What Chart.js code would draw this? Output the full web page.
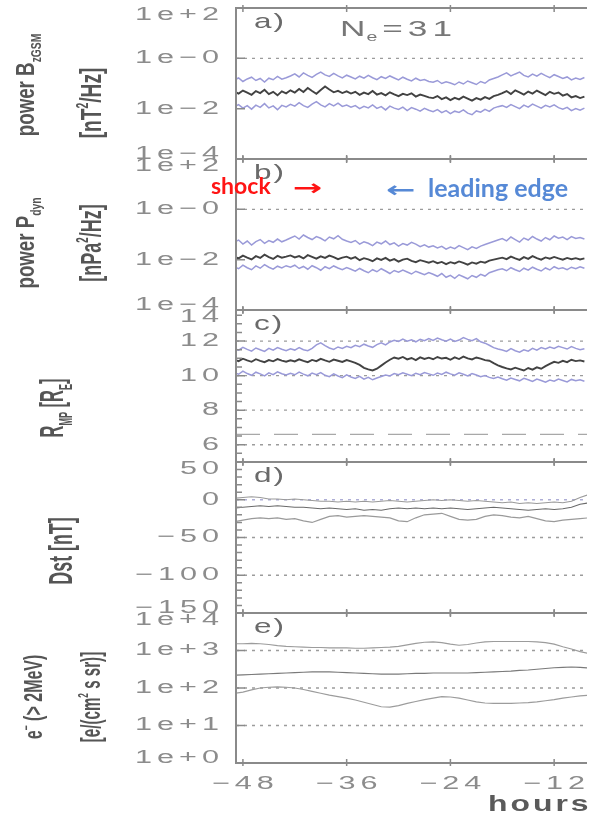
<!DOCTYPE html>
<html>
<head>
<meta charset="utf-8">
<script src="https://cdn.jsdelivr.net/npm/chart.js@4.4.1/dist/chart.umd.min.js"></script>
<style>
  html, body { margin: 0; padding: 0; background: #fff; overflow: hidden; }
  #wrap { position: relative; width: 594px; height: 815px; }
  #wrap canvas { position: absolute; left: 0; top: 0; }
</style>
</head>
<body>
<div id="wrap">
  <canvas id="pa" width="594" height="815"></canvas>
  <canvas id="pb" width="594" height="815"></canvas>
  <canvas id="pc" width="594" height="815"></canvas>
  <canvas id="pd" width="594" height="815"></canvas>
  <canvas id="pe" width="594" height="815"></canvas>
</div>
<script>
// ---------- time axes (hours relative to arrival) ----------
const X_MIN = -48.8;
const X_MAX = -8.2;
const hourTicks = [-48, -36, -24, -12];
const hourTickText = ["\u221248", "\u221236", "\u221224", "\u221212"];

// half-hour grid for the noisy spectra / magnetopause series
const hoursHalf = [-49, -48.5, -48, -47.5, -47, -46.5, -46, -45.5, -45, -44.5, -44, -43.5, -43,
  -42.5, -42, -41.5, -41, -40.5, -40, -39.5, -39, -38.5, -38, -37.5, -37, -36.5, -36,
  -35.5, -35, -34.5, -34, -33.5, -33, -32.5, -32, -31.5, -31, -30.5, -30, -29.5, -29, -28.5, -28, -27.5, -27, -26.5,
  -26, -25.5, -25, -24.5, -24, -23.5, -23, -22.5, -22, -21.5, -21, -20.5, -20, -19.5, -19, -18.5,
  -18, -17.5, -17, -16.5, -16, -15.5, -15, -14.5, -14, -13.5, -13, -12.5, -12, -11.5,
  -11, -10.5, -10, -9.5, -9, -8.5];

// hourly grid for Dst and electron flux
const hoursHourly = [-49, -48, -47, -46, -45, -44, -43, -42, -41, -40, -39, -38, -37, -36, -35, -34,
  -33, -32, -31, -30, -29, -28, -27, -26, -25, -24, -23, -22, -21, -20, -19, -18, -17, -16, -15, -14,
  -13, -12, -11, -10, -9, -8];

// ---------- a) power of Bz GSM, log10 [nT^2/Hz] ----------
const bzMedLog = [-1.32,-1.40,-1.28,-1.36,-1.45,-1.30,-1.38,-1.25,-1.42,-1.33,-1.47,-1.31,-1.39,
  -1.27,-1.36,-1.22,-1.34,-1.18,-1.30,-1.41,-1.26,-1.12,-1.24,-1.35,-1.29,-1.38,-1.31,
  -1.40,-1.33,-1.45,-1.36,-1.42,-1.30,-1.44,-1.38,-1.47,-1.35,-1.43,-1.50,-1.41,-1.46,-1.39,-1.52,-1.44,-1.49,-1.55,
  -1.58,-1.50,-1.62,-1.55,-1.66,-1.57,-1.63,-1.52,-1.60,-1.68,-1.58,-1.64,-1.54,-1.61,-1.50,-1.45,
  -1.38,-1.30,-1.42,-1.27,-1.35,-1.44,-1.32,-1.40,-1.28,-1.37,-1.46,-1.33,-1.41,-1.36,
  -1.48,-1.42,-1.55,-1.50,-1.58,-1.52];
const bzHiLog = [-0.86,-0.78,-0.92,-0.82,-0.75,-0.88,-0.80,-0.94,-0.79,-0.85,-0.72,-0.83,-0.77,
  -0.70,-0.62,-0.74,-0.58,-0.68,-0.76,-0.64,-0.55,-0.66,-0.72,-0.60,-0.70,-0.78,-0.67,
  -0.74,-0.82,-0.71,-0.79,-0.68,-0.77,-0.85,-0.73,-0.80,-0.70,-0.78,-0.86,-0.75,-0.83,-0.90,-0.79,-0.88,-0.84,-0.92,
  -0.95,-0.88,-1.00,-0.93,-0.98,-1.05,-0.94,-1.02,-0.90,-0.97,-1.04,-0.92,-0.99,-0.86,-0.80,-0.74,
  -0.66,-0.58,-0.70,-0.62,-0.55,-0.68,-0.74,-0.63,-0.71,-0.60,-0.69,-0.77,-0.65,-0.72,
  -0.80,-0.74,-0.86,-0.78,-0.84,-0.76];
const bzLoLog = [-1.92,-1.84,-1.98,-1.88,-2.02,-1.86,-1.95,-1.80,-1.97,-1.89,-2.04,-1.87,-1.93,
  -1.83,-1.90,-1.76,-1.88,-1.95,-1.82,-1.72,-1.85,-1.93,-1.80,-1.89,-1.78,-1.91,-1.86,
  -1.94,-1.88,-2.00,-1.91,-1.97,-1.85,-1.99,-1.92,-2.05,-1.90,-1.98,-2.03,-1.94,-2.08,-1.96,-2.02,-2.10,-1.99,-2.06,
  -2.12,-2.04,-2.16,-2.08,-2.20,-2.10,-2.15,-2.05,-2.18,-2.24,-2.09,-2.14,-2.03,-2.11,-1.98,-1.92,
  -1.88,-1.95,-1.84,-1.92,-2.00,-1.86,-1.94,-1.82,-1.90,-1.98,-1.87,-1.93,-1.85,-1.96,
  -2.02,-1.95,-2.08,-2.00,-2.06,-1.98];

// ---------- b) power of Pdyn, log10 [nPa^2/Hz] ----------
const pdMedLog = [-1.88,-1.95,-1.84,-1.92,-1.99,-1.86,-1.93,-1.80,-1.90,-1.97,-1.85,-1.92,-1.88,
  -1.83,-1.91,-1.86,-1.95,-1.82,-1.89,-1.96,-1.87,-1.93,-1.84,-1.90,-1.98,-1.92,-1.88,
  -1.96,-1.90,-2.02,-1.94,-1.99,-2.06,-1.95,-2.01,-1.93,-2.04,-1.98,-2.08,-2.00,-1.96,-2.05,-2.10,-2.02,-2.07,-2.12,
  -2.06,-2.14,-2.09,-2.18,-2.10,-2.15,-2.07,-2.13,-2.20,-2.11,-2.16,-2.08,-2.12,-2.04,-2.00,-1.96,
  -1.92,-1.98,-1.88,-1.95,-2.01,-1.90,-1.97,-1.86,-1.94,-2.00,-1.91,-1.96,-1.89,-1.95,
  -2.00,-1.93,-1.98,-1.94,-1.99,-1.95];
const pdHiLog = [-1.30,-1.22,-1.38,-1.26,-1.42,-1.28,-1.20,-1.35,-1.24,-1.31,-1.18,-1.29,-1.22,
  -1.14,-1.06,-1.18,-1.02,-1.12,-1.20,-1.08,-1.15,-1.25,-1.10,-1.17,-1.05,-1.19,-1.26,
  -1.32,-1.24,-1.38,-1.29,-1.35,-1.44,-1.30,-1.37,-1.26,-1.40,-1.33,-1.46,-1.36,-1.42,-1.31,-1.38,-1.48,-1.41,-1.50,
  -1.45,-1.53,-1.47,-1.58,-1.50,-1.56,-1.44,-1.52,-1.60,-1.49,-1.55,-1.46,-1.40,-1.34,-1.28,-1.22,
  -1.16,-1.25,-1.10,-1.20,-1.30,-1.14,-1.22,-1.08,-1.18,-1.26,-1.12,-1.21,-1.06,-1.15,
  -1.10,-1.20,-1.08,-1.16,-1.12,-1.18];
const pdLoLog = [-2.28,-2.36,-2.22,-2.32,-2.40,-2.25,-2.34,-2.20,-2.30,-2.38,-2.26,-2.33,-2.24,
  -2.30,-2.22,-2.35,-2.27,-2.38,-2.24,-2.32,-2.42,-2.28,-2.36,-2.25,-2.33,-2.40,-2.31,
  -2.38,-2.46,-2.35,-2.44,-2.52,-2.40,-2.48,-2.36,-2.45,-2.55,-2.43,-2.50,-2.41,-2.49,-2.57,-2.46,-2.53,-2.60,-2.51,
  -2.58,-2.66,-2.55,-2.70,-2.62,-2.74,-2.60,-2.68,-2.76,-2.63,-2.70,-2.58,-2.65,-2.52,-2.46,-2.40,
  -2.36,-2.44,-2.32,-2.40,-2.47,-2.34,-2.42,-2.30,-2.38,-2.45,-2.33,-2.41,-2.28,-2.36,
  -2.32,-2.40,-2.30,-2.36,-2.28,-2.34];

// ---------- c) magnetopause standoff distance [R_E] ----------
const rmpMed = [10.92,10.84,10.98,10.88,10.80,10.95,10.86,10.78,10.90,10.83,10.96,10.87,10.81,
  10.89,10.82,10.94,10.85,10.78,10.91,10.84,10.97,10.88,10.80,10.93,10.86,10.79,10.90,
  10.83,10.74,10.62,10.45,10.36,10.30,10.40,10.58,10.76,10.92,11.05,10.98,11.08,10.94,11.02,10.90,11.06,10.97,11.04,
  10.95,11.08,10.99,11.03,10.92,11.06,10.96,11.10,11.00,10.94,11.05,10.98,10.90,10.86,10.72,10.60,
  10.50,10.42,10.36,10.46,10.38,10.30,10.44,10.35,10.48,10.40,10.55,10.68,10.80,10.74,
  10.86,10.78,10.92,10.84,10.88,10.82];
const rmpHi = [11.55,11.48,11.64,11.52,11.42,11.60,11.50,11.40,11.58,11.47,11.62,11.53,11.45,
  11.56,11.48,11.62,11.50,11.44,11.58,11.78,11.90,11.74,11.60,11.52,11.66,11.58,11.70,
  11.62,11.76,11.68,11.82,11.72,11.64,11.80,11.90,11.78,11.95,12.05,11.98,12.12,12.00,12.08,11.96,12.10,12.02,12.15,
  12.04,12.18,12.08,12.00,12.12,11.98,12.06,12.20,12.10,12.02,12.14,11.96,11.88,11.76,11.62,11.54,
  11.48,11.40,11.56,11.44,11.36,11.50,11.42,11.58,11.48,11.62,11.54,11.66,11.58,11.70,
  11.62,11.54,11.68,11.58,11.50,11.56];
const rmpLo = [10.18,10.08,10.26,10.12,10.02,10.20,10.10,9.98,10.16,10.06,10.22,10.11,10.04,
  10.14,10.05,10.20,10.09,9.99,10.15,10.06,10.18,10.02,9.94,10.10,9.98,9.88,10.04,
  9.92,9.84,9.96,9.80,9.90,9.76,9.86,9.95,10.04,9.98,10.12,10.05,10.16,10.08,10.00,10.14,10.06,10.18,10.10,
  10.02,10.15,10.07,10.20,10.10,10.03,10.16,10.08,9.98,10.12,10.04,9.94,10.00,9.90,9.84,9.92,
  9.82,9.74,9.86,9.78,9.70,9.84,9.76,9.66,9.80,9.72,9.62,9.74,9.68,9.80,
  9.72,9.64,9.78,9.70,9.76,9.68];
const rmpGeo = 6.6;

// ---------- d) Dst [nT] ----------
const dstHi = [2,3,4,3,1,1,0,1,0,-1,-2,-2,-3,-2,-3,-2,-3,-2,-1,-2,-3,-2,-1,0,-1,0,-1,-2,-1,-2,-3,-4,-3,-5,-4,-5,-4,-3,-4,-2,3,7];
const dstMed = [-11,-10,-9,-8,-9,-8,-9,-10,-10,-11,-12,-11,-12,-13,-12,-14,-13,-14,-12,-11,-12,-11,-12,-11,-12,-11,-12,-13,-12,-11,-10,-11,-12,-13,-14,-13,-12,-13,-12,-10,-6,-4];
const dstLo = [-29,-27,-25,-24,-25,-24,-26,-25,-28,-30,-26,-22,-21,-23,-22,-21,-22,-23,-24,-28,-29,-24,-20,-19,-18,-22,-26,-27,-26,-22,-20,-21,-23,-24,-22,-25,-28,-29,-27,-26,-25,-24];

// ---------- e) electron flux > 2 MeV, log10 [e/(cm^2 s sr)] ----------
const fluxHiLog = [3.18,3.18,3.19,3.18,3.16,3.13,3.11,3.10,3.09,3.08,3.08,3.07,3.07,3.07,3.06,3.06,3.07,3.08,3.09,3.11,3.15,3.19,3.22,3.23,3.21,3.17,3.14,3.16,3.20,3.23,3.24,3.24,3.24,3.24,3.24,3.23,3.21,3.17,3.10,3.04,2.97,2.92];
const fluxMedLog = [2.34,2.35,2.36,2.37,2.38,2.39,2.40,2.41,2.42,2.43,2.43,2.43,2.42,2.41,2.40,2.39,2.38,2.37,2.37,2.37,2.38,2.39,2.39,2.40,2.40,2.40,2.40,2.40,2.41,2.42,2.43,2.44,2.45,2.47,2.48,2.50,2.52,2.54,2.55,2.56,2.55,2.53];
const fluxLoLog = [1.86,1.89,1.95,2.00,2.02,2.03,2.02,2.00,1.96,1.91,1.86,1.81,1.77,1.73,1.68,1.62,1.56,1.50,1.49,1.53,1.59,1.64,1.69,1.73,1.77,1.76,1.73,1.68,1.63,1.60,1.59,1.59,1.59,1.60,1.61,1.63,1.66,1.69,1.73,1.76,1.79,1.81];

// ---------- y ticks per panel ----------
const ticksA = [1e2, 1, 1e-2, 1e-4];
const ticksAText = ["1e+2", "1e\u22120", "1e\u22122", "1e\u22124"];
const ticksC = [14, 12, 10, 8, 6];
const ticksCText = ["14", "12", "10", "8", "6"];
const minorC = [5.5, 6.5, 7, 7.5, 8.5, 9, 9.5, 10.5, 11, 11.5, 12.5, 13, 13.5];
const ticksD = [50, 0, -50, -100, -150];
const ticksDText = ["50", "0", "\u221250", "\u2212100", "\u2212150"];
const minorD = [40, 30, 20, 10, -10, -20, -30, -40, -60, -70, -80, -90, -110, -120, -130, -140];
const ticksE = [1e4, 1e3, 1e2, 1e1, 1];
const ticksEText = ["1e+4", "1e+3", "1e+2", "1e+1", "1e+0"];

const BLACK = "#424242";
const LILAC = "#9a9ad8";
const GRID = "#9c9c9c";
const TITLE = "#555555";

// ---------- helpers ----------
function wideText(ctx, str, x, y, align, sx, gap) {
  const chars = [...str];
  const ws = chars.map(c => ctx.measureText(c).width * sx);
  const total = ws.reduce((s, w) => s + w, 0) + gap * (chars.length - 1);
  let cx = align === "right" ? x - total : align === "center" ? x - total / 2 : x;
  chars.forEach((c, i) => {
    ctx.save();
    ctx.translate(cx, y);
    ctx.scale(sx, 1);
    ctx.textAlign = "left";
    ctx.fillText(c, 0, 0);
    ctx.restore();
    cx += ws[i] + gap;
  });
  return total;
}

// rotated axis title, segments may be sub- or superscripts
function vText(ctx, segs, bx, cy, size, squeeze, color) {
  ctx.save();
  ctx.translate(bx, cy);
  ctx.rotate(-Math.PI / 2);
  ctx.scale(squeeze, 1);
  ctx.fillStyle = color;
  ctx.textBaseline = "alphabetic";
  ctx.textAlign = "left";
  const parts = segs.map(s => {
    const fs = s.sub || s.sup ? size * 0.55 : size;
    ctx.font = 'bold ' + fs + 'px "Liberation Sans"';
    return { s, fs, w: ctx.measureText(s.t).width };
  });
  const total = parts.reduce((a, p) => a + p.w, 0);
  let u = -total / 2;
  parts.forEach(p => {
    ctx.font = 'bold ' + p.fs + 'px "Liberation Sans"';
    const v = p.s.sub ? size * 0.28 : p.s.sup ? -size * 0.45 : 0;
    ctx.fillText(p.s.t, u, v);
    u += p.w;
  });
  ctx.restore();
}

const series = (xs, ys, color, width, order, log) => ({
  data: xs.map((h, i) => ({ x: h, y: log ? Math.pow(10, ys[i]) : ys[i] })),
  borderColor: color, borderWidth: width, pointRadius: 0, tension: 0, order
});
const refLine = (v, dash, color) => ({
  data: [{ x: X_MIN, y: v }, { x: X_MAX, y: v }],
  borderColor: color, borderWidth: 1.3, borderDash: dash, pointRadius: 0, order: 9
});

// frame, ticks, labels and annotations of one panel
const panelDeco = {
  id: "panelDeco",
  afterDatasetsDraw(chart, args, o) {
    const { ctx, chartArea: a, scales: { x, y } } = chart;
    ctx.save();
    ctx.strokeStyle = "#8a8a8a";
    ctx.lineWidth = 2;
    ctx.beginPath();
    ctx.moveTo(a.left, a.top - 1); ctx.lineTo(a.left, a.bottom + 1);
    ctx.moveTo(a.left, a.top); ctx.lineTo(a.right, a.top);
    ctx.moveTo(a.left, a.bottom); ctx.lineTo(a.right, a.bottom);
    ctx.stroke();

    ctx.lineWidth = 1.5;
    ctx.beginPath();
    hourTicks.forEach(h => {
      const px = x.getPixelForValue(h);
      ctx.moveTo(px, a.top - 3); ctx.lineTo(px, a.top + 4);
      ctx.moveTo(px, a.bottom - 4); ctx.lineTo(px, a.bottom + 3);
    });
    o.ticks.forEach(v => {
      const py = y.getPixelForValue(v);
      if (py < a.top - 1 || py > a.bottom + 1) return;
      ctx.moveTo(a.left, py); ctx.lineTo(a.left + 9, py);
    });
    (o.minor || []).forEach(v => {
      const py = y.getPixelForValue(v);
      ctx.moveTo(a.left, py); ctx.lineTo(a.left + 6, py);
    });
    ctx.stroke();

    // tick labels, end ones held inside the panel
    ctx.fillStyle = "#8c8c8c";
    ctx.font = '18px "Liberation Sans"';
    ctx.textBaseline = "middle";
    o.ticks.forEach((v, i) => {
      const py = Math.min(Math.max(y.getPixelForValue(v), a.top + 7), a.bottom - 5);
      wideText(ctx, o.tickText[i], 219, py, "right", 1.7, 5);
    });

    // panel letter
    ctx.fillStyle = "#6a6a6a";
    ctx.font = '21px "Liberation Sans"';
    wideText(ctx, o.letter, a.left + 18, a.top + 14, "left", 1.5, 2);

    o.titles.forEach(t => vText(ctx, t.segs, t.x, t.y, t.size, t.sq, TITLE));
    if (o.extra) o.extra(ctx, chart);
    ctx.restore();
  }
};

const panels = [
  {
    id: "pa", top: 8, bottom: 159, type: "logarithmic", min: 1e-4, max: 1e2,
    ticks: ticksA, tickText: ticksAText, letter: "a)",
    datasets: [
      refLine(1, [3, 5], GRID),
      series(hoursHalf, bzHiLog, LILAC, 1.5, 2, true),
      series(hoursHalf, bzLoLog, LILAC, 1.5, 2, true),
      series(hoursHalf, bzMedLog, BLACK, 1.9, 1, true)
    ],
    titles: [
      { segs: [{ t: "power B" }, { t: "zGSM", sub: true }], x: 34, y: 85, size: 26, sq: 0.72 },
      { segs: [{ t: "[nT" }, { t: "2", sup: true }, { t: "/Hz]" }], x: 101, y: 103, size: 29, sq: 0.66 }
    ],
    extra(ctx) {
      ctx.fillStyle = "#777777";
      ctx.font = '22px "Liberation Sans"';
      ctx.textBaseline = "alphabetic";
      let px = 340;
      px += wideText(ctx, "N", px, 36, "left", 1.6, 0) + 1;
      ctx.font = '13px "Liberation Sans"';
      px += wideText(ctx, "e", px, 41, "left", 1.5, 0) + 5;
      ctx.font = '22px "Liberation Sans"';
      wideText(ctx, "=31", px, 36, "left", 1.6, 5);
    }
  },
  {
    id: "pb", top: 159, bottom: 310, type: "logarithmic", min: 1e-4, max: 1e2,
    ticks: ticksA, tickText: ticksAText, letter: "b)",
    datasets: [
      refLine(1, [3, 5], GRID),
      series(hoursHalf, pdHiLog, LILAC, 1.5, 2, true),
      series(hoursHalf, pdLoLog, LILAC, 1.5, 2, true),
      series(hoursHalf, pdMedLog, BLACK, 1.9, 1, true)
    ],
    titles: [
      { segs: [{ t: "power P" }, { t: "dyn", sub: true }], x: 34, y: 243, size: 26, sq: 0.72 },
      { segs: [{ t: "[nPa" }, { t: "2", sup: true }, { t: "/Hz]" }], x: 101, y: 243, size: 29, sq: 0.62 }
    ],
    extra(ctx) {
      ctx.textBaseline = "alphabetic";
      ctx.fillStyle = "#ff1414";
      ctx.font = 'bold 23px "Lato"';
      ctx.fillText("shock", 211, 194);
      ctx.font = 'bold 22px "DejaVu Sans"';
      wideText(ctx, "\u2192", 293, 195, "left", 1.6, 0);
      ctx.fillStyle = "#5689d6";
      wideText(ctx, "\u2190", 386, 197, "left", 1.6, 0);
      ctx.font = 'bold 25px "Lato"';
      ctx.fillText("leading edge", 428, 197);
    }
  },
  {
    id: "pc", top: 310, bottom: 462, type: "linear", min: 5, max: 13.8,
    ticks: ticksC, tickText: ticksCText, minor: minorC, letter: "c)",
    datasets: [
      refLine(12, [3, 5], GRID),
      refLine(10, [3, 5], GRID),
      refLine(8, [3, 5], GRID),
      refLine(6, [3, 5], GRID),
      refLine(rmpGeo, [24, 14], "#a8a8a8"),
      series(hoursHalf, rmpHi, LILAC, 1.5, 2, false),
      series(hoursHalf, rmpLo, LILAC, 1.5, 2, false),
      series(hoursHalf, rmpMed, BLACK, 1.9, 1, false)
    ],
    titles: [
      { segs: [{ t: "R" }, { t: "MP", sub: true }, { t: " [R" }, { t: "E", sub: true }, { t: "]" }], x: 63, y: 408, size: 33, sq: 0.5 }
    ]
  },
  {
    id: "pd", top: 462, bottom: 613, type: "linear", min: -150, max: 50,
    ticks: ticksD, tickText: ticksDText, minor: minorD, letter: "d)",
    datasets: [
      refLine(0, [3, 5], "#aeaed6"),
      refLine(-50, [3, 5], GRID),
      refLine(-100, [3, 5], GRID),
      series(hoursHourly, dstHi, "#9a9a9a", 1.1, 2, false),
      series(hoursHourly, dstLo, "#9a9a9a", 1.1, 2, false),
      series(hoursHourly, dstMed, "#6a6a6a", 1.1, 1, false)
    ],
    titles: [
      { segs: [{ t: "Dst [nT]" }], x: 72, y: 551, size: 33, sq: 0.54 }
    ]
  },
  {
    id: "pe", top: 613, bottom: 763, type: "logarithmic", min: 1, max: 1e4,
    ticks: ticksE, tickText: ticksEText, letter: "e)",
    datasets: [
      refLine(1e3, [3, 5], GRID),
      refLine(1e2, [3, 5], GRID),
      refLine(1e1, [3, 5], GRID),
      series(hoursHourly, fluxHiLog, "#9c9c9c", 1.2, 2, true),
      series(hoursHourly, fluxLoLog, "#9c9c9c", 1.2, 2, true),
      series(hoursHourly, fluxMedLog, "#7a7a7a", 1.2, 1, true)
    ],
    titles: [
      { segs: [{ t: "e" }, { t: "\u2212", sup: true }, { t: " (> 2MeV)" }], x: 42, y: 697, size: 25, sq: 0.64 },
      { segs: [{ t: "[e/(cm" }, { t: "2", sup: true }, { t: " s sr)]" }], x: 100, y: 697, size: 27, sq: 0.56 }
    ],
    extra(ctx, chart) {
      const x = chart.scales.x;
      ctx.fillStyle = "#8c8c8c";
      ctx.font = '18px "Liberation Sans"';
      ctx.textBaseline = "middle";
      hourTicks.forEach((h, i) => wideText(ctx, hourTickText[i], x.getPixelForValue(h), 784, "center", 1.7, 5));
      ctx.fillStyle = "#5a5a5a";
      ctx.font = 'bold 22px "Liberation Sans"';
      ctx.textBaseline = "alphabetic";
      wideText(ctx, "hours", 488, 811, "left", 1.45, 3);
    }
  }
];

panels.forEach(p => {
  new Chart(document.getElementById(p.id), {
    type: "line",
    data: { datasets: p.datasets },
    options: {
      responsive: false,
      animation: false,
      layout: { padding: { top: p.top, bottom: 815 - p.bottom, left: 0, right: 7 } },
      plugins: {
        legend: { display: false },
        tooltip: { enabled: false },
        panelDeco: p
      },
      scales: {
        x: { type: "linear", min: X_MIN, max: X_MAX, display: false },
        y: {
          type: p.type, min: p.min, max: p.max,
          ticks: { display: false },
          grid: { display: false },
          border: { display: false },
          afterFit(s) { s.width = 236; }
        }
      }
    },
    plugins: [panelDeco]
  });
});
</script>
</body>
</html>
